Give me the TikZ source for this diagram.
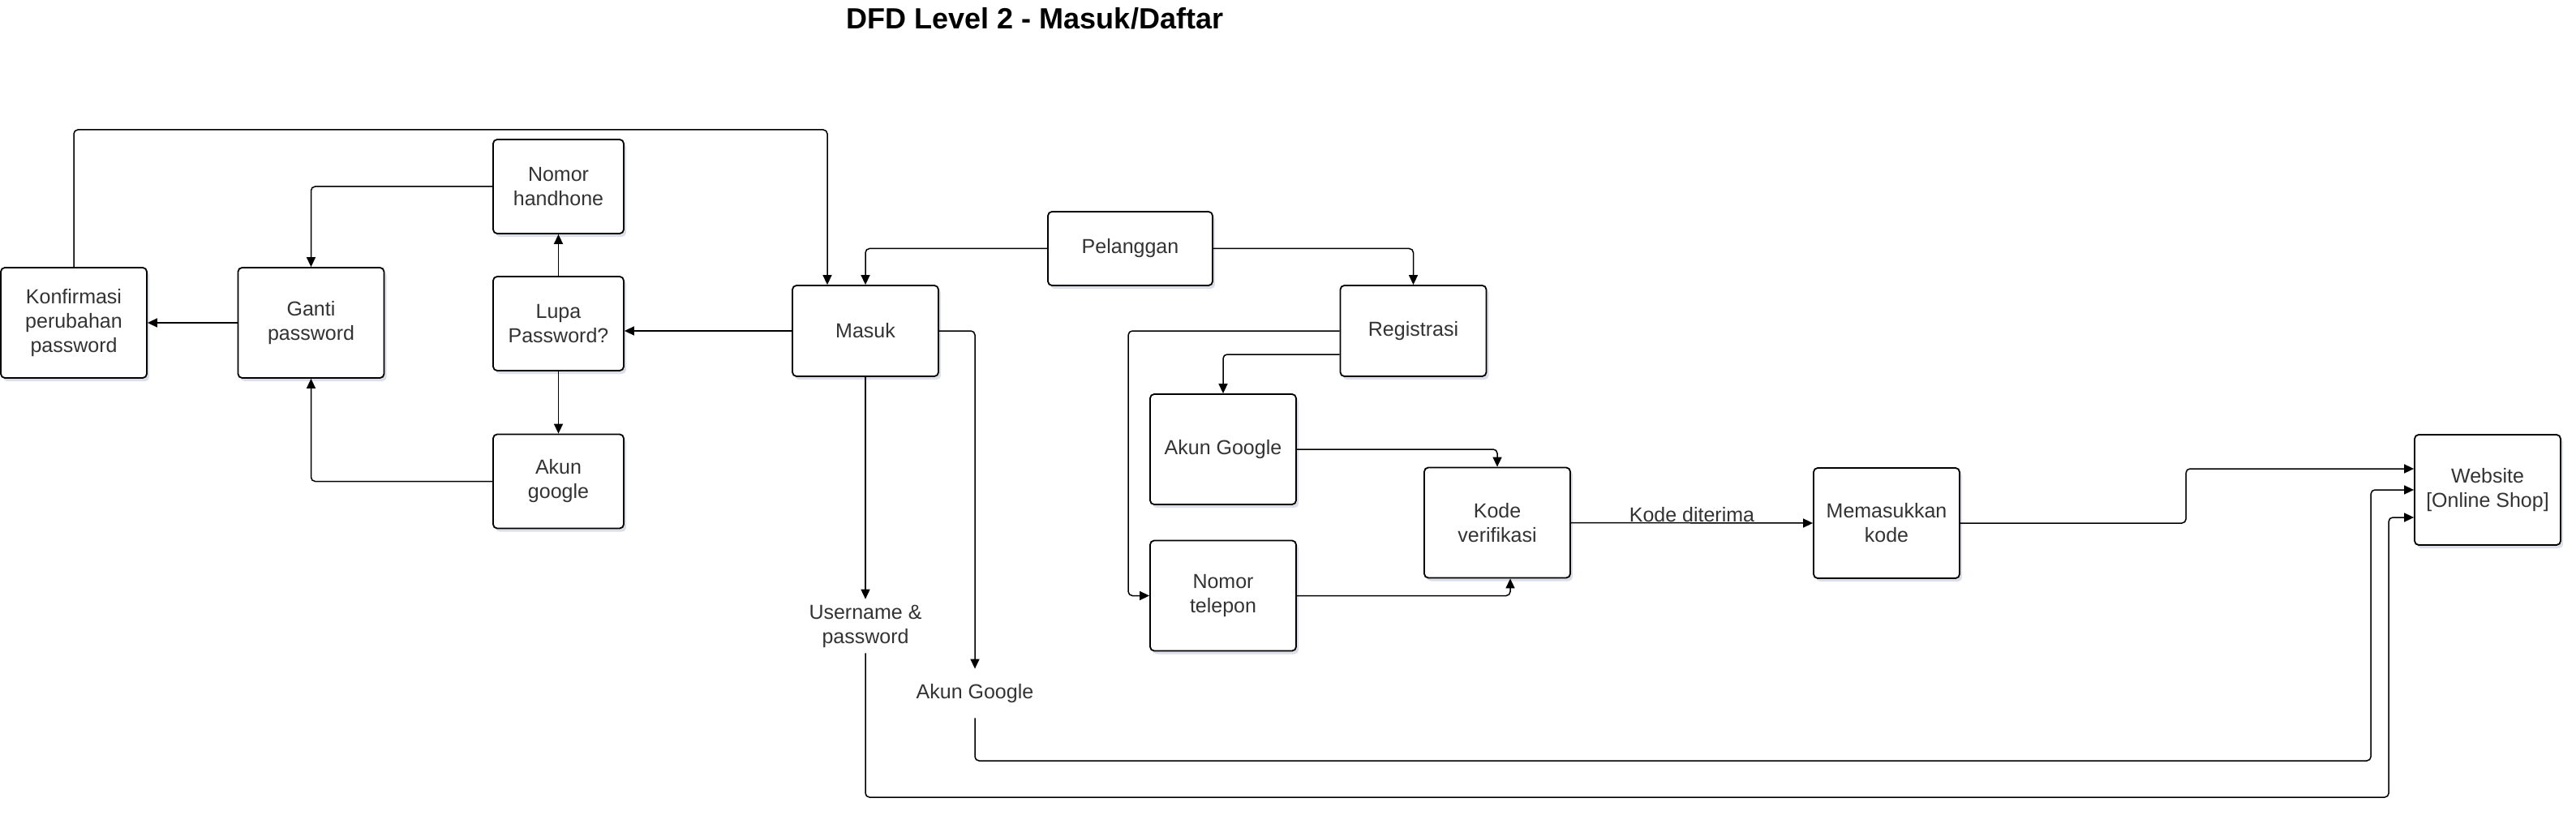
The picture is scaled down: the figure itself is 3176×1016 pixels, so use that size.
\documentclass[tikz,border=0pt]{standalone}
\usepackage{fontspec}
\setmainfont{Liberation Sans}
\usetikzlibrary{positioning, arrows.meta, shadows}
\definecolor{txtgray}{HTML}{333333}
\definecolor{shadowblue}{HTML}{8C96B4}

\begin{document}
\begin{tikzpicture}[
x=0.5pt, y=-0.5pt,
proc/.style={rectangle, rounded corners=2.5pt, draw=black, fill=white, line width=0.9pt, minimum width=90pt, minimum height=68pt, align=center, text=txtgray, font=\fontsize{12.5pt}{15pt}\selectfont, drop shadow={shadow xshift=1.5pt, shadow yshift=-2pt, fill=shadowblue, opacity=0.3}},
smallproc/.style={proc, minimum width=80.5pt, minimum height=58pt},
flatproc/.style={proc, minimum height=56pt},
datalbl/.style={align=center, text=txtgray, font=\fontsize{12.5pt}{15pt}\selectfont},
flow/.style={-{Triangle[length=6pt, width=5.5pt]}, line width=0.75pt, rounded corners=2.5pt}
]
\useasboundingbox (0,0) rectangle (3176,1016);

\node[font=\bfseries\fontsize{18pt}{21pt}\selectfont] (title) at (1276,23) {DFD Level 2 - Masuk/Daftar};

%Nodes
\node[proc]      (konf)    at (91,398)     {Konfirmasi\\perubahan\\password};
\node[proc]      (ganti)   at (383.5,398)  {Ganti\\password};
\node[smallproc] (nomorhp) at (688.5,230)  {Nomor\\handhone};
\node[smallproc] (lupa)    at (688.5,399)  {Lupa\\Password?};
\node[smallproc] (akung)   at (688.5,593.5) {Akun\\google};
\node[flatproc]  (masuk)   at (1067,408)   {Masuk};
\node[proc, minimum width=101.5pt, minimum height=45.5pt] (pel) at (1393.5,306.5) {Pelanggan};
\node[flatproc]  (reg)     at (1742.5,408) {Registrasi};
\node[proc]      (akunreg) at (1508,554)   {Akun Google};
\node[proc]      (telp)    at (1508,734.5) {Nomor\\telepon};
\node[proc]      (kode)    at (1846,644.5) {Kode\\verifikasi};
\node[proc]      (memas)   at (2326,645)   {Memasukkan\\kode};
\node[proc]      (web)     at (3067,604)   {Website\\{[Online Shop]}};

\node[datalbl, minimum height=31pt] (user)    at (1067,772) {Username \&\\password};
\node[datalbl, minimum height=30pt] (akunlbl) at (1202,855) {Akun Google};

\coordinate (railTop) at (0,160);
\coordinate (railA)   at (0,983);
\coordinate (railB)   at (0,938);

%Lines
\draw[flow] (konf.north) -- (konf.north |- railTop) -| ([xshift=-23.5pt]masuk.north);
\draw[flow] (nomorhp.west) -| (ganti.north);
\draw[flow] (lupa.north) -- (nomorhp.south);
\draw[flow] (lupa.south) -- (akung.north);
\draw[flow] (masuk.west) -- (masuk.west -| lupa.east);
\draw[flow] (ganti.west) -- (konf.east);
\draw[flow] (akung.west) -| (ganti.south);
\draw[flow] (pel.west) -| (masuk.north);
\draw[flow] (pel.east) -| (reg.north);
\draw[flow] (masuk.east) -| (akunlbl.north);
\draw[flow] (masuk.south) -- (user.north);
\draw[flow] (user.south) -- (user.south |- railA) -| ([xshift=-15.5pt,yshift=-17pt]web.west) -- ([yshift=-17pt]web.west);
\draw[flow] (akunlbl.south) -- (akunlbl.south |- railB) -| ([xshift=-26.5pt]web.west) -- (web.west);
\draw[flow] (reg.west) -| ([xshift=-13pt]telp.west) -- (telp.west);
\draw[flow] ([yshift=-14.5pt]reg.west) -| (akunreg.north);
\draw[flow] (akunreg.east) -| (kode.north);
\draw[flow] (telp.east) -| ([xshift=8pt]kode.south);
\draw[flow] (kode.east) -- (memas.west) node[datalbl, midway, yshift=5pt] {Kode diterima};
\draw[flow] (memas.east) -| ([xshift=-140.5pt,yshift=13pt]web.west) -- ([yshift=13pt]web.west);
\end{tikzpicture}
\end{document}
